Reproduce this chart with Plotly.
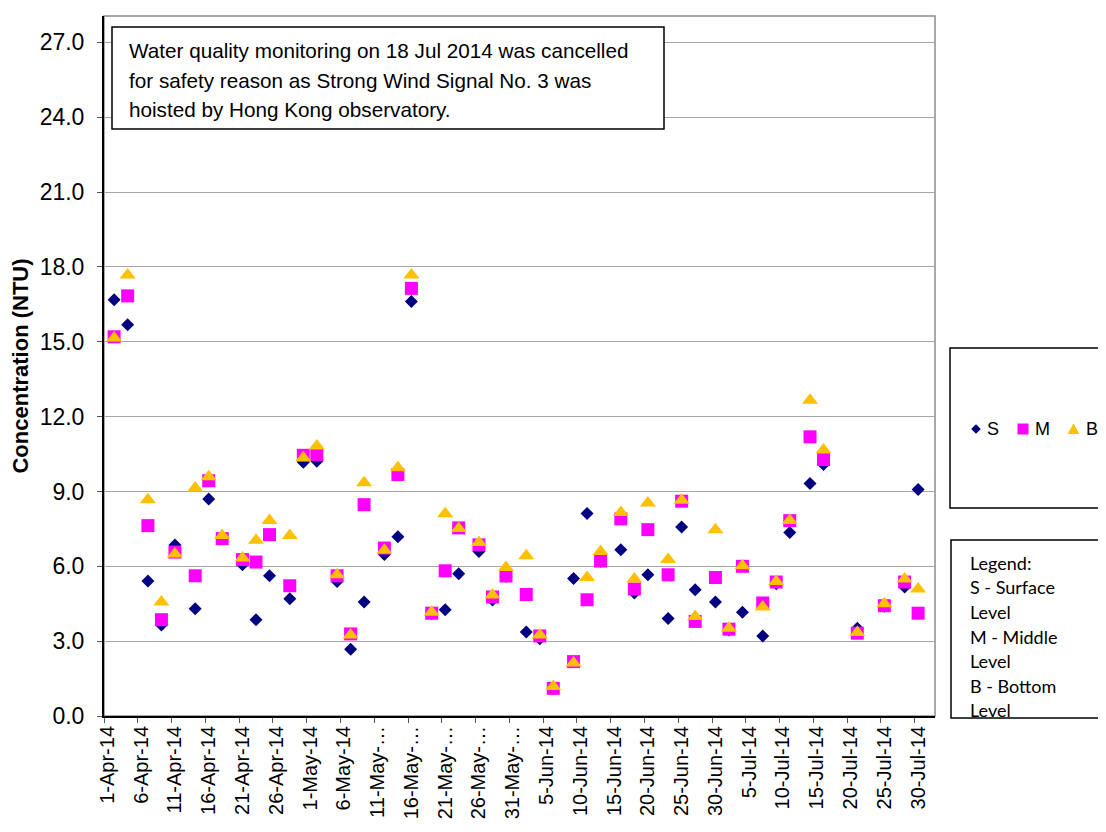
import plotly.graph_objects as go

# ---- data ----
dates = [
    "2014-04-02", "2014-04-04", "2014-04-07", "2014-04-09", "2014-04-11",
    "2014-04-14", "2014-04-16", "2014-04-18", "2014-04-21", "2014-04-23",
    "2014-04-25", "2014-04-28", "2014-04-30", "2014-05-02", "2014-05-05",
    "2014-05-07", "2014-05-09", "2014-05-12", "2014-05-14", "2014-05-16",
    "2014-05-19", "2014-05-21", "2014-05-23", "2014-05-26", "2014-05-28",
    "2014-05-30", "2014-06-02", "2014-06-04", "2014-06-06", "2014-06-09",
    "2014-06-11", "2014-06-13", "2014-06-16", "2014-06-18", "2014-06-20",
    "2014-06-23", "2014-06-25", "2014-06-27", "2014-06-30", "2014-07-02",
    "2014-07-04", "2014-07-07", "2014-07-09", "2014-07-11", "2014-07-14",
    "2014-07-16", "2014-07-21", "2014-07-25", "2014-07-28", "2014-07-30",
]
surface = [
    16.68, 15.68, 5.41, 3.65, 6.85, 4.30, 8.70, 7.10, 6.06, 3.86,
    5.62, 4.70, 10.17, 10.21, 5.39, 2.68, 4.57, 6.47, 7.18, 16.61,
    4.10, 4.26, 5.70, 6.59, 4.65, 5.60, 3.37, 3.10, 1.10, 5.51,
    8.12, 6.20, 6.66, 4.93, 5.66, 3.91, 7.58, 5.06, 4.57, 3.45,
    4.16, 3.21, 5.30, 7.36, 9.32, 10.08, 3.52, 4.40, 5.17, 9.08,
]
middle = [
    15.20, 16.84, 7.63, 3.86, 6.57, 5.62, 9.43, 7.11, 6.27, 6.17,
    7.27, 5.22, 10.45, 10.48, 5.62, 3.29, 8.47, 6.73, 9.68, 17.14,
    4.12, 5.82, 7.54, 6.86, 4.77, 5.61, 4.87, 3.21, 1.11, 2.18,
    4.66, 6.21, 7.90, 5.09, 7.47, 5.66, 8.61, 3.79, 5.55, 3.48,
    6.00, 4.53, 5.37, 7.83, 11.19, 10.28, 3.32, 4.42, 5.37, 4.12,
]
bottom = [
    15.15, 17.68, 8.67, 4.57, 6.49, 9.14, 9.59, 7.24, 6.33, 7.04,
    7.84, 7.23, 10.35, 10.82, 5.66, 3.25, 9.35, 6.64, 9.95, 17.68,
    4.16, 8.11, 7.52, 6.95, 4.85, 5.95, 6.42, 3.25, 1.18, 2.12,
    5.55, 6.59, 8.16, 5.49, 8.54, 6.27, 8.65, 3.99, 7.47, 3.52,
    6.02, 4.37, 5.39, 7.84, 12.66, 10.66, 3.35, 4.50, 5.49, 5.09,
]
tick_dates = [
    "2014-04-01", "2014-04-06", "2014-04-11", "2014-04-16", "2014-04-21",
    "2014-04-26", "2014-05-01", "2014-05-06", "2014-05-11", "2014-05-16",
    "2014-05-21", "2014-05-26", "2014-05-31", "2014-06-05", "2014-06-10",
    "2014-06-15", "2014-06-20", "2014-06-25", "2014-06-30", "2014-07-05",
    "2014-07-10", "2014-07-15", "2014-07-20", "2014-07-25", "2014-07-30",
]
tick_labels = [
    "1-Apr-14", "6-Apr-14", "11-Apr-14", "16-Apr-14", "21-Apr-14",
    "26-Apr-14", "1-May-14", "6-May-14", "11-May-…", "16-May-…",
    "21-May-…", "26-May-…", "31-May-…", "5-Jun-14", "10-Jun-14",
    "15-Jun-14", "20-Jun-14", "25-Jun-14", "30-Jun-14", "5-Jul-14",
    "10-Jul-14", "15-Jul-14", "20-Jul-14", "25-Jul-14", "30-Jul-14",
]
series_names = ["S", "M", "B"]
note_lines = [
    "Water quality monitoring on 18 Jul 2014 was cancelled",
    "for safety reason as Strong Wind Signal No. 3 was",
    "hoisted by Hong Kong observatory.",
]
legend_note = ["Legend:", "S - Surface", "Level", "M - Middle", "Level",
               "B - Bottom", "Level"]

# ---- layout geometry (pixels, in window coordinates) ----
OFF = 8                      # page body margin
WIN_W, WIN_H = 1106, 832
W, H = WIN_W - OFF, WIN_H - OFF
L, R, T, B = 104, 935, 16, 716   # plot area in window coordinates
PW, PH = R - L, B - T


def px(x):
    return (x - L) / PW


def py(y):
    return (B - y) / PH


colors = ["#000080", "#FF00FF", "#FFC000"]
symbols = ["diamond", "square", "triangle-up"]
sizes = [10, 13, 14]

fig = go.Figure()
for name, vals, c, s, sz in zip(series_names, [surface, middle, bottom],
                                colors, symbols, sizes):
    fig.add_trace(go.Scatter(
        x=dates, y=vals, mode="markers", name=name, showlegend=False,
        marker=dict(symbol=s, color=c, size=sz, line=dict(width=0)),
    ))

shapes = [
    dict(type="rect", xref="paper", yref="paper", x0=0, x1=1, y0=0, y1=1,
         line=dict(color="#8C8C8C", width=1.5), layer="below"),
    dict(type="rect", xref="paper", yref="paper", x0=px(112), x1=px(664),
         y0=py(129), y1=py(27), line=dict(color="black", width=1.5),
         fillcolor="white", layer="above"),
    dict(type="rect", xref="paper", yref="paper", x0=px(950), x1=px(1115),
         y0=py(508), y1=py(348), line=dict(color="black", width=1.5)),
    dict(type="rect", xref="paper", yref="paper", x0=px(951), x1=px(1115),
         y0=py(718), y1=py(540), line=dict(color="black", width=1.5)),
]


# ---- legend keys (drawn beside the chart, as in the reference) ----
def key_path(kind, cx, cy):
    if kind == "diamond":
        pts = [(cx, cy - 4.8), (cx + 4.8, cy), (cx, cy + 4.8), (cx - 4.8, cy)]
    elif kind == "square":
        pts = [(cx - 5.5, cy - 5.5), (cx + 5.5, cy - 5.5),
               (cx + 5.5, cy + 5.5), (cx - 5.5, cy + 5.5)]
    else:
        pts = [(cx, cy - 5.8), (cx + 5.8, cy + 5), (cx - 5.8, cy + 5)]
    return "M " + " L ".join(f"{px(x):.5f},{py(y):.5f}" for x, y in pts) + " Z"


key_y = 429
key_x = [976, 1023, 1073.5]
label_x = [985, 1032.5, 1083.5]
annotations = []
for name, c, s, kx, lx in zip(series_names, colors, symbols, key_x, label_x):
    shapes.append(dict(type="path", xref="paper", yref="paper",
                       path=key_path(s, kx, key_y), fillcolor=c,
                       line=dict(width=0)))
    annotations.append(dict(
        text=name, xref="paper", yref="paper", x=px(lx), y=py(key_y),
        xanchor="left", yanchor="middle", showarrow=False,
        font=dict(family="Liberation Sans, Arial", size=18, color="black"),
    ))

for i, line in enumerate(note_lines):
    annotations.append(dict(
        text=line, xref="paper", yref="paper", x=px(126.5), y=py(50 + 30 * i),
        xanchor="left", yanchor="middle", showarrow=False,
        font=dict(family="Liberation Sans, Arial", size=20.7, color="black"),
    ))
for i, line in enumerate(legend_note):
    annotations.append(dict(
        text=line, xref="paper", yref="paper", x=px(968),
        y=py(562.7 + 24.6 * i), xanchor="left", yanchor="middle",
        showarrow=False,
        font=dict(family="Lato, Open Sans", size=18, color="black"),
    ))

fig.update_layout(
    width=W, height=H,
    margin=dict(l=L - OFF, r=W - (R - OFF), t=T - OFF, b=H - (B - OFF),
                pad=0, autoexpand=False),
    paper_bgcolor="white", plot_bgcolor="white",
    font=dict(family="Liberation Sans, Arial", color="black"),
    shapes=shapes, annotations=annotations,
    showlegend=False,
    xaxis=dict(
        type="date",
        range=["2014-03-31 12:00", "2014-08-01 12:00"],
        tickmode="array", tickvals=tick_dates, ticktext=tick_labels,
        tickangle=-90, ticks="", tickfont=dict(size=20),
        showgrid=False, zeroline=False,
        showline=True, linecolor="black", linewidth=2,
        minor=dict(tick0="2014-03-31 12:00", dtick=5 * 86400000,
                   ticks="outside", ticklen=5, tickcolor="#555555",
                   tickwidth=1, showgrid=False),
    ),
    yaxis=dict(
        range=[0, PH / (673.6 / 27)], dtick=3, tick0=0, tickformat=".1f",
        showgrid=True, gridcolor="#A6A6A6", gridwidth=1, zeroline=False,
        showline=True, linecolor="black", linewidth=2,
        ticks="outside", ticklen=5, tickcolor="#555555",
        ticklabelstandoff=8,
        tickfont=dict(size=23),
        title=dict(text="<b>Concentration (NTU)</b>",
                   font=dict(size=22), standoff=9),
    ),
)

fig.write_html("out.html")
